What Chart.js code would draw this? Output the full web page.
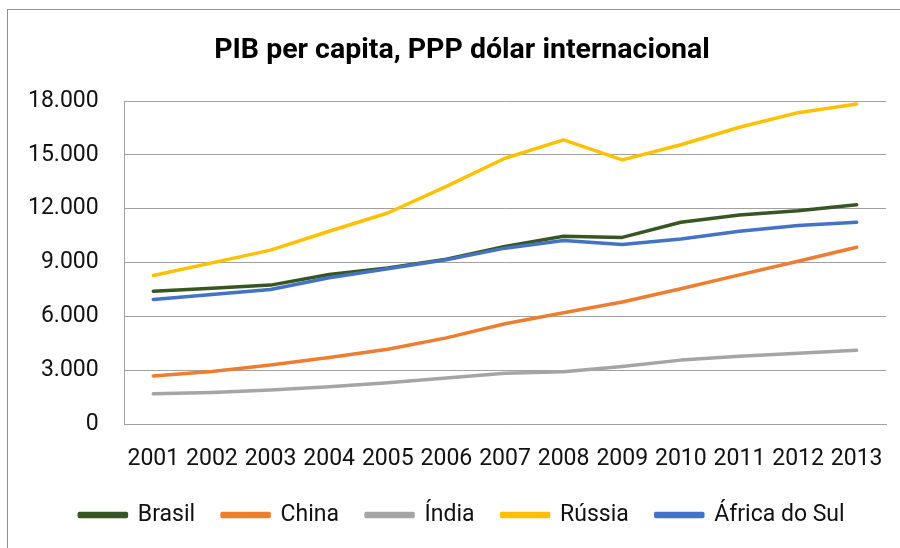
<!DOCTYPE html>
<html>
<head>
<meta charset="utf-8">
<script src="https://cdn.jsdelivr.net/npm/chart.js@4.4.1/dist/chart.umd.min.js"></script>
<style>
  html, body { margin: 0; padding: 0; background: #fff; overflow: hidden; }
  #wrap { position: relative; width: 900px; height: 548px; }
  #frame { position: absolute; left: 7px; top: 9px; width: 1000px; height: 1000px; border-left: 1px solid #8f8f8f; border-top: 1px solid #8f8f8f; }
  canvas { position: absolute; left: 0; top: 0; }
</style>
</head>
<body>
<div id="wrap">
  <div id="frame"></div>
  <canvas id="c" width="900" height="548"></canvas>
</div>
<script>
const years = ['2001','2002','2003','2004','2005','2006','2007','2008','2009','2010','2011','2012','2013'];
const brasil = [7400, 7570, 7740, 8330, 8700, 9180, 9900, 10460, 10400, 11240, 11650, 11890, 12220];
const china  = [2680, 2930, 3290, 3700, 4170, 4800, 5590, 6200, 6800, 7540, 8310, 9070, 9850];
const india  = [1680, 1760, 1900, 2080, 2300, 2560, 2830, 2910, 3200, 3560, 3780, 3940, 4110];
const russia = [8280, 8980, 9690, 10740, 11760, 13240, 14810, 15830, 14720, 15560, 16540, 17350, 17830];
const africa = [6940, 7220, 7500, 8150, 8650, 9150, 9800, 10220, 10000, 10310, 10740, 11060, 11240];
const seriesNames = ['Brasil', 'China', 'Índia', 'Rússia', 'África do Sul'];
const seriesColors = ['#375623', '#ED7D31', '#A5A5A5', '#FFC000', '#4472C4'];
const yMin = 0, yMax = 18000, yStep = 3000;
const titleText = 'PIB per capita, PPP dólar internacional';

function fmt(v) { return String(v).replace(/\B(?=(\d{3})+(?!\d))/g, '.'); }

Chart.defaults.font.family = 'Roboto, "Noto Sans", sans-serif';
Chart.defaults.color = '#111';

const allValues = [brasil, china, india, russia, africa];
const datasets = allValues.map((vals, i) => ({
  label: seriesNames[i],
  data: vals,
  borderColor: seriesColors[i],
  backgroundColor: seriesColors[i],
  borderWidth: 3.5,
  pointRadius: 0,
  pointHoverRadius: 0,
  tension: 0,
  borderCapStyle: 'round',
  borderJoinStyle: 'round',
  order: allValues.length - 1 - i
}));

new Chart(document.getElementById('c'), {
  type: 'line',
  data: { labels: years, datasets },
  options: {
    responsive: false,
    animation: false,
    layout: { padding: { left: 38, right: 14, top: 10, bottom: 11.5 } },
    plugins: {
      tooltip: { enabled: false },
      title: {
        display: true,
        text: titleText,
        color: '#000',
        font: { size: 28.5, weight: 'bold' },
        padding: { top: 24, bottom: 32.8 }
      },
      legend: {
        position: 'bottom',
        labels: {
          boxWidth: 47,
          boxHeight: 3,
          padding: 27,
          color: '#111',
          font: { size: 23 },
          sort: (a, b) => a.datasetIndex - b.datasetIndex
        }
      }
    },
    scales: {
      x: {
        offset: true,
        grid: { display: false, drawTicks: false },
        border: { display: true, color: '#a0a0a0', width: 1 },
        ticks: { font: { size: 23 }, color: '#111', padding: 21, maxRotation: 0, autoSkip: false },
        afterFit: (s) => { s.height = 52.5; s.paddingLeft = 0; s.paddingRight = 0; }
      },
      y: {
        min: yMin,
        max: yMax,
        grid: { color: '#a0a0a0', lineWidth: 1, drawTicks: false },
        border: { display: true, color: '#a0a0a0', width: 1 },
        ticks: {
          stepSize: yStep, font: { size: 23 }, color: '#111',
          mirror: true, crossAlign: 'far', padding: -96,
          callback: (v) => fmt(v)
        },
        afterFit: (s) => { s.width = 86; s.paddingTop = 0; s.paddingBottom = 0; }
      }
    }
  }
});
</script>
</body>
</html>
